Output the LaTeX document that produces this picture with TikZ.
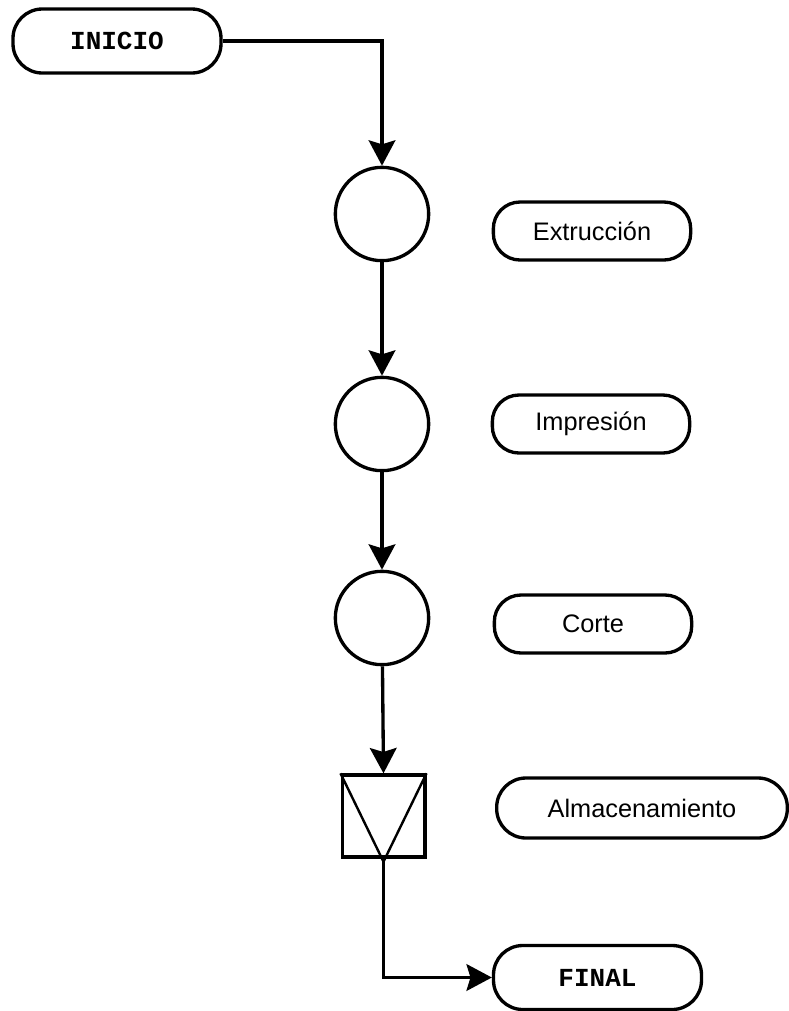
\documentclass[tikz,border=0pt]{standalone}
\usepackage{fontspec}
\setmainfont{Liberation Sans}
\setmonofont{Liberation Mono}
\usepackage{tikz}
\usetikzlibrary{arrows.meta,calc,positioning}

\begin{document}
\begin{tikzpicture}[x=0.75pt,y=-0.75pt,line width=2.5pt,
    >={Stealth[length=19pt,width=20pt,inset=3pt]},
    font=\fontsize{19}{22}\selectfont]
    \tikzstyle{oper}=[circle, minimum size=70pt, inner sep=0pt, draw]
    \tikzstyle{etiqueta}=[rectangle, rounded corners=20pt, minimum width=148pt, minimum height=43.5pt, draw]
    \tikzstyle{limite}=[rectangle, rounded corners=22pt, minimum width=156pt, minimum height=48pt, draw, font=\fontsize{19.5}{22}\selectfont\ttfamily\bfseries]
    \tikzstyle{almacen}=[rectangle, minimum width=62pt, minimum height=61.5pt, inner sep=0pt, draw]

    \useasboundingbox (0,0) rectangle (789,1011);

    \node[limite]   (inicio) at (117,41)  {INICIO};

    % operaciones
    \node[oper]     (op1)    at (382,214) {};
    \node[oper]     (op2)    at (382,424) {};
    \node[oper]     (op3)    at (382,618) {};
    \node[almacen]  (alm)    at (383.5,816) {};
    \coordinate     (punta)  at ($(alm.south)+(0,3)$);
    \draw[line width=1.8pt] (alm.north west) -- (punta) -- (alm.north east);

    % descripciones
    \node[etiqueta] (extr)   at (592,231) {Extrucción};
    \node[etiqueta] (impr)   at (591,424) {Impresión};
    \node[etiqueta] (corte)  at (593,624) {Corte};
    \node[etiqueta, rounded corners=22pt, minimum width=218pt, minimum height=45pt]
                    (almtxt) at (642,808) {Almacenamiento};

    \node[limite]   (final)  at (597.5,977.5) {FINAL};

    \draw[->] (inicio.east) -| (op1.north);
    \path[->] (op1) edge (op2)
              (op2) edge (op3)
              (op3) edge (alm.north);
    \draw[->] (punta) |- (final.west);

\end{tikzpicture}
\end{document}
